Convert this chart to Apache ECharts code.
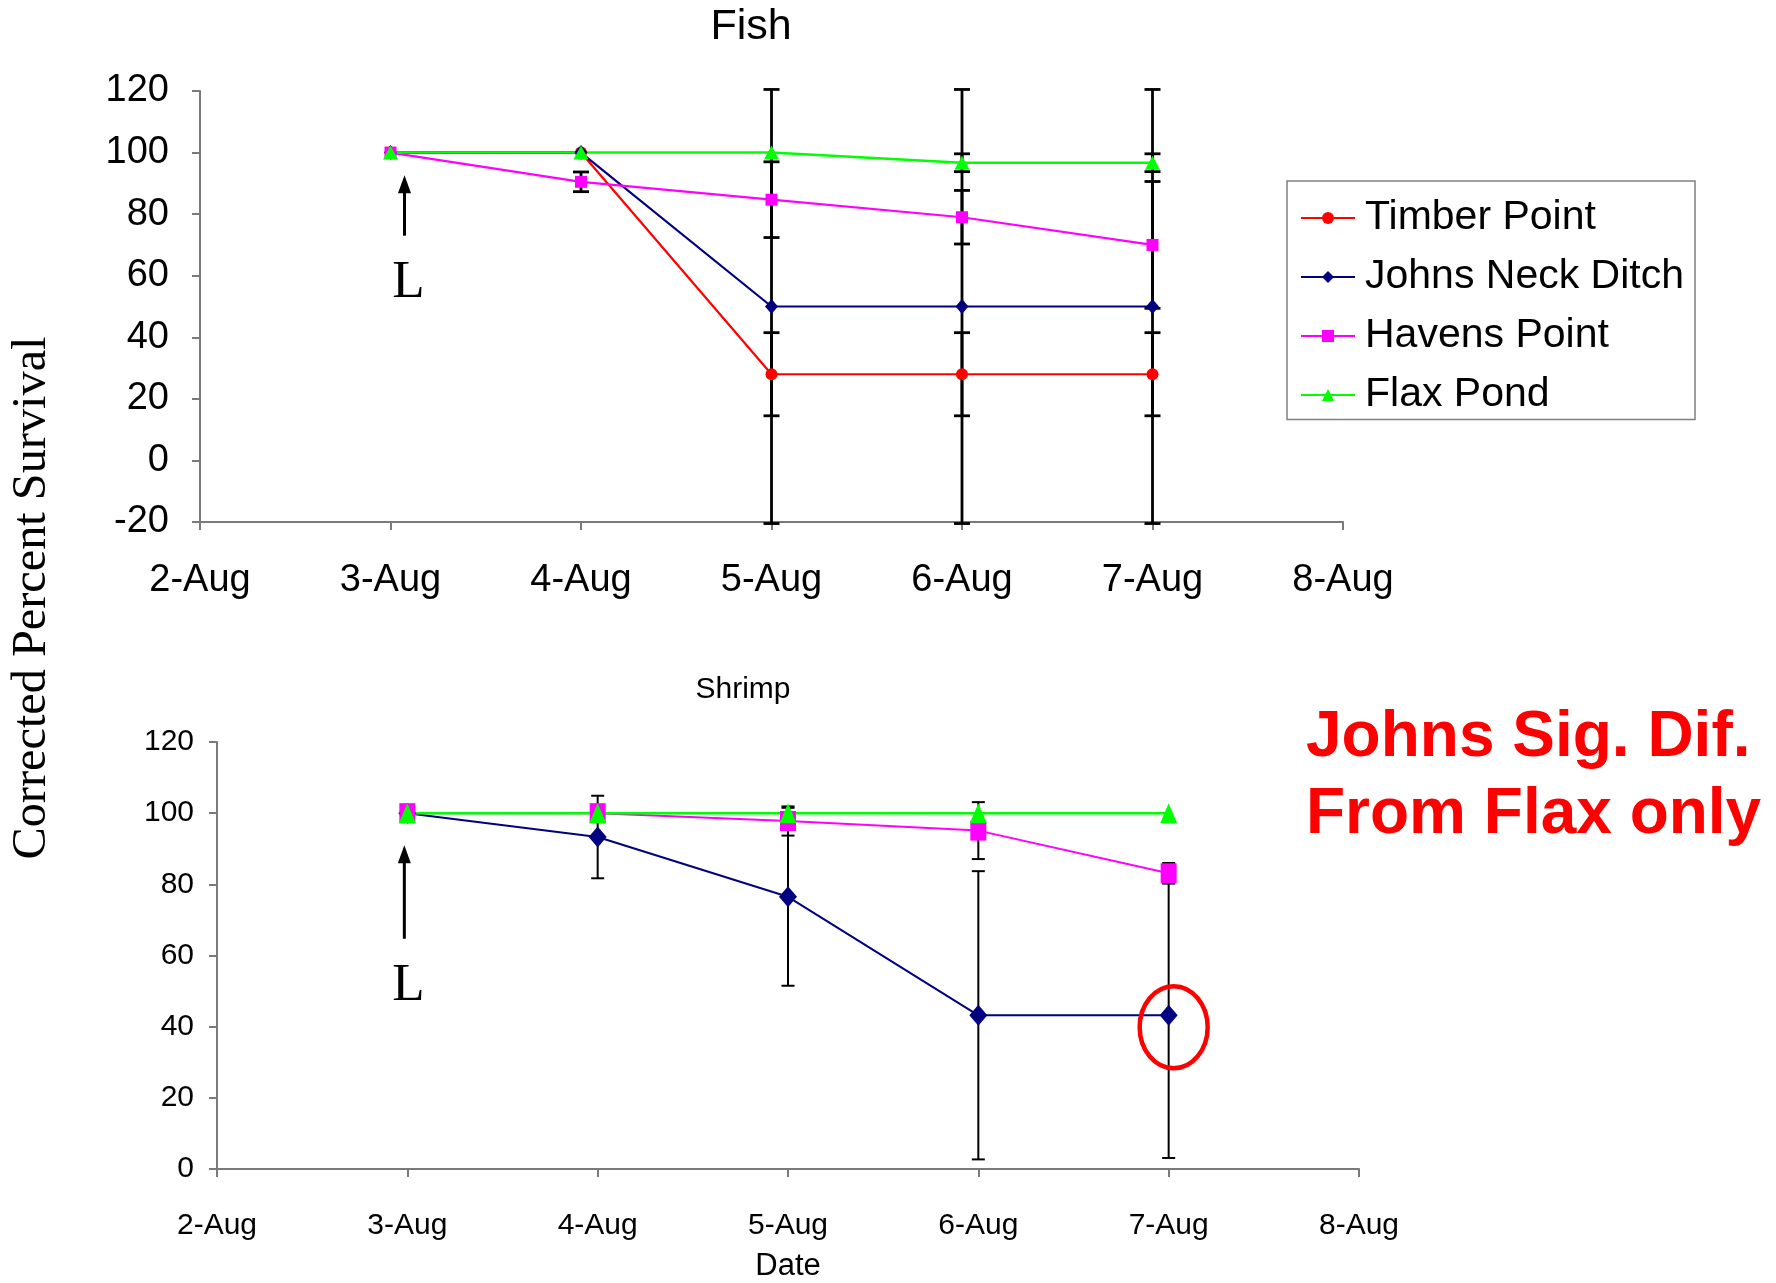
<!DOCTYPE html>
<html>
<head>
<meta charset="utf-8">
<script src="https://cdn.jsdelivr.net/npm/echarts@6/dist/echarts.min.js"></script>
<style>
  html, body { margin: 0; padding: 0; background: #ffffff; }
  #main { width: 1776px; height: 1283px; }
</style>
</head>
<body>
<div id="main"></div>
<script>
// Sampling dates (category axis labels)
const dates = ['2-Aug', '3-Aug', '4-Aug', '5-Aug', '6-Aug', '7-Aug', '8-Aug'];
const siteNames = ['Timber Point', 'Johns Neck Ditch', 'Havens Point', 'Flax Pond'];

// Fish: corrected percent survival and error (+/-) per date
const fishTimber     = [null, 100, 100, 28, 28, 28, null];
const fishTimberErr  = [null, 0, 0, 13.5, 13.5, 13.5, null];
const fishJohns      = [null, 100, 100, 50, 50, 50, null];
const fishJohnsErr   = [null, 0, 0, 70.5, 70.5, 70.5, null];
const fishHavens     = [null, 100, 90.5, 84.7, 79, 70, null];
const fishHavensErr  = [null, 0, 3.2, 12.3, 8.7, 20.6, null];
const fishFlax       = [null, 100, 100, 100, 96.7, 96.7, null];
const fishFlaxErr    = [null, 0, 0, 0, 2.9, 2.9, null];

// Shrimp: corrected percent survival and error (+/-) per date
const shrimpJohns     = [null, 100, 93.3, 76.5, 43.2, 43.2, null];
const shrimpJohnsErr  = [null, 0, 11.6, 25, 40.5, 40.1, null];
const shrimpHavens    = [null, 100, 100, 97.8, 95.1, 83.1, null];
const shrimpHavensErr = [null, 0, 0, 4.1, 8, 2.9, null];
const shrimpFlax      = [null, 100, 100, 100, 100, 100, null];
const shrimpFlaxErr   = [null, 0, 0, 0, 0, 0, null];

const COLORS = {
  'Timber Point': '#ff0000',
  'Johns Neck Ditch': '#000080',
  'Havens Point': '#ff00ff',
  'Flax Pond': '#00ff00'
};
const SANS = "'Liberation Sans', Arial, sans-serif";
const SERIF = "'Liberation Serif', 'Times New Roman', serif";

function lineSeries(name, grid, data, symbol, size, lineWidth) {
  return {
    type: 'line', name: name,
    xAxisIndex: grid, yAxisIndex: grid,
    data: data,
    symbol: symbol, symbolSize: size,
    showAllSymbol: true,
    itemStyle: { color: COLORS[name], opacity: 1 },
    lineStyle: { color: COLORS[name], width: lineWidth },
    z: 5, animation: false, silent: true
  };
}

// Vertical error bars with caps, positioned through the axes' scales
function errorSeries(grid, values, errs, lineWidth, capWidth) {
  const data = [];
  values.forEach(function (v, i) {
    if (v != null && errs[i] > 0) data.push([i, v - errs[i], v + errs[i]]);
  });
  return {
    type: 'custom', xAxisIndex: grid, yAxisIndex: grid,
    z: 3, silent: true, animation: false,
    encode: { x: 0, y: [1, 2] },
    data: data,
    renderItem: function (params, api) {
      const i = api.value(0);
      const lo = api.coord([i, api.value(1)]);
      const hi = api.coord([i, api.value(2)]);
      const hw = capWidth / 2;
      const st = { stroke: '#000000', lineWidth: lineWidth };
      return {
        type: 'group',
        children: [
          { type: 'line', shape: { x1: lo[0], y1: lo[1], x2: hi[0], y2: hi[1] }, style: st },
          { type: 'line', shape: { x1: lo[0] - hw, y1: lo[1], x2: lo[0] + hw, y2: lo[1] }, style: st },
          { type: 'line', shape: { x1: hi[0] - hw, y1: hi[1], x2: hi[0] + hw, y2: hi[1] }, style: st }
        ]
      };
    }
  };
}

function xAxisOf(grid, fontSize, margin, extra) {
  return Object.assign({
    gridIndex: grid, type: 'category', boundaryGap: false, data: dates,
    axisLine: { show: true, onZero: false, lineStyle: { color: '#7a7a7a', width: 2 } },
    axisTick: { show: true, inside: false, length: 8, lineStyle: { color: '#7a7a7a', width: 2 } },
    axisLabel: { color: '#000', fontSize: fontSize, fontFamily: SANS, margin: margin, interval: 0 },
    splitLine: { show: false }
  }, extra || {});
}
function yAxisOf(grid, min, max, fontSize, margin) {
  return {
    gridIndex: grid, type: 'value', min: min, max: max, interval: 20,
    axisLine: { show: true, onZero: false, lineStyle: { color: '#7a7a7a', width: 2 } },
    axisTick: { show: true, inside: false, length: 8, lineStyle: { color: '#7a7a7a', width: 2 } },
    axisLabel: { color: '#000', fontSize: fontSize, fontFamily: SANS, margin: margin },
    splitLine: { show: false }
  };
}

const chart = echarts.init(document.getElementById('main'), null, { renderer: 'canvas' });

const option = {
  backgroundColor: '#ffffff',
  animation: false,
  grid: [
    { left: 200, top: 91, width: 1143, height: 431 },
    { left: 217, top: 742, width: 1142, height: 432 }
  ],
  xAxis: [
    xAxisOf(0, 38, 39.5),
    xAxisOf(1, 30, 41.5, {
      name: 'Date', nameLocation: 'middle', nameGap: 82,
      nameTextStyle: { color: '#000', fontSize: 31, fontFamily: SANS }
    })
  ],
  yAxis: [
    yAxisOf(0, -20, 120, 38, 31),
    yAxisOf(1, 0, 120, 30, 23)
  ],
  legend: {
    data: siteNames,
    orient: 'vertical',
    left: 1287, top: 181,
    padding: [16.5, 11, 4, 13],
    itemWidth: 54, itemHeight: 15, itemGap: 18,
    borderColor: '#808080', borderWidth: 1.5,
    backgroundColor: '#ffffff',
    textStyle: { color: '#000', fontSize: 41, fontFamily: SANS, padding: [0, 0, 0, 5] },
    selectedMode: false
  },
  series: [
    errorSeries(0, fishTimber, fishTimberErr, 2.8, 16),
    errorSeries(0, fishJohns, fishJohnsErr, 2.8, 16),
    errorSeries(0, fishHavens, fishHavensErr, 2.8, 16),
    errorSeries(0, fishFlax, fishFlaxErr, 2.8, 16),
    lineSeries('Timber Point', 0, fishTimber, 'circle', 12, 2.2),
    lineSeries('Johns Neck Ditch', 0, fishJohns, 'diamond', [13, 15], 2.2),
    lineSeries('Havens Point', 0, fishHavens, 'rect', 12, 2.2),
    lineSeries('Flax Pond', 0, fishFlax, 'triangle', [15, 14], 2.5),

    errorSeries(1, shrimpJohns, shrimpJohnsErr, 2, 13),
    errorSeries(1, shrimpHavens, shrimpHavensErr, 2, 13),
    errorSeries(1, shrimpFlax, shrimpFlaxErr, 2, 13),
    lineSeries('Johns Neck Ditch', 1, shrimpJohns, 'diamond', [18, 21], 2),
    lineSeries('Havens Point', 1, shrimpHavens, 'rect', [16, 20], 2),
    lineSeries('Flax Pond', 1, shrimpFlax, 'triangle', [17, 20], 2.5)
  ]
};
chart.setOption(option);

// Annotations: panel titles, shared y title, release arrows "L", significance note
function px(grid, i, v) {
  return chart.convertToPixel({ xAxisIndex: grid, yAxisIndex: grid }, [i, v]);
}
function arrow(x, tipY, baseY) {
  return [
    { type: 'line', shape: { x1: x, y1: tipY + 12, x2: x, y2: baseY }, style: { stroke: '#000', lineWidth: 3 }, z: 10 },
    { type: 'polygon', shape: { points: [[x, tipY], [x - 6.5, tipY + 18], [x + 6.5, tipY + 18]] }, style: { fill: '#000' }, z: 10 }
  ];
}
const topTip = px(0, 1, 92.6), topBase = px(0, 1, 73), topL = px(0, 1, 57.5);
const botTip = px(1, 1, 91), botBase = px(1, 1, 64.7), botL = px(1, 1, 51.5);
const topX = topTip[0] + 14, botX = botTip[0] - 3;
const circled = px(1, 5, shrimpJohns[5]);

const graphics = []
  .concat(arrow(topX, topTip[1], topBase[1]))
  .concat(arrow(botX, botTip[1], botBase[1]))
  .concat([
    { type: 'text', x: topX + 4, y: topL[1], z: 10,
      style: { text: 'L', fill: '#000', font: '53px ' + SERIF, textAlign: 'center', textVerticalAlign: 'middle' } },
    { type: 'text', x: botX + 4, y: botL[1], z: 10,
      style: { text: 'L', fill: '#000', font: '53px ' + SERIF, textAlign: 'center', textVerticalAlign: 'middle' } },
    { type: 'text', x: 751, y: 27, z: 10,
      style: { text: 'Fish', fill: '#000', font: '43px ' + SANS, textAlign: 'center', textVerticalAlign: 'middle' } },
    { type: 'text', x: 743, y: 690, z: 10,
      style: { text: 'Shrimp', fill: '#000', font: '30px ' + SANS, textAlign: 'center', textVerticalAlign: 'middle' } },
    { type: 'text', x: 32, y: 598, rotation: Math.PI / 2, z: 10,
      style: { text: 'Corrected Percent Survival', fill: '#000', font: '48.3px ' + SERIF, textAlign: 'center', textVerticalAlign: 'middle' } },
    { type: 'text', x: 1306, y: 738, z: 10,
      style: { text: 'Johns Sig. Dif.', fill: '#ff0000', font: 'bold 64px ' + SANS, textAlign: 'left', textVerticalAlign: 'middle' } },
    { type: 'text', x: 1306, y: 815, z: 10,
      style: { text: 'From Flax only', fill: '#ff0000', font: 'bold 64px ' + SANS, textAlign: 'left', textVerticalAlign: 'middle' } },
    { type: 'ellipse', z: 10,
      shape: { cx: circled[0] + 5, cy: circled[1] + 12, rx: 34, ry: 41 },
      style: { fill: 'none', stroke: '#ff0000', lineWidth: 4.5 } }
  ]);

chart.setOption({ graphic: graphics });
</script>
</body>
</html>
